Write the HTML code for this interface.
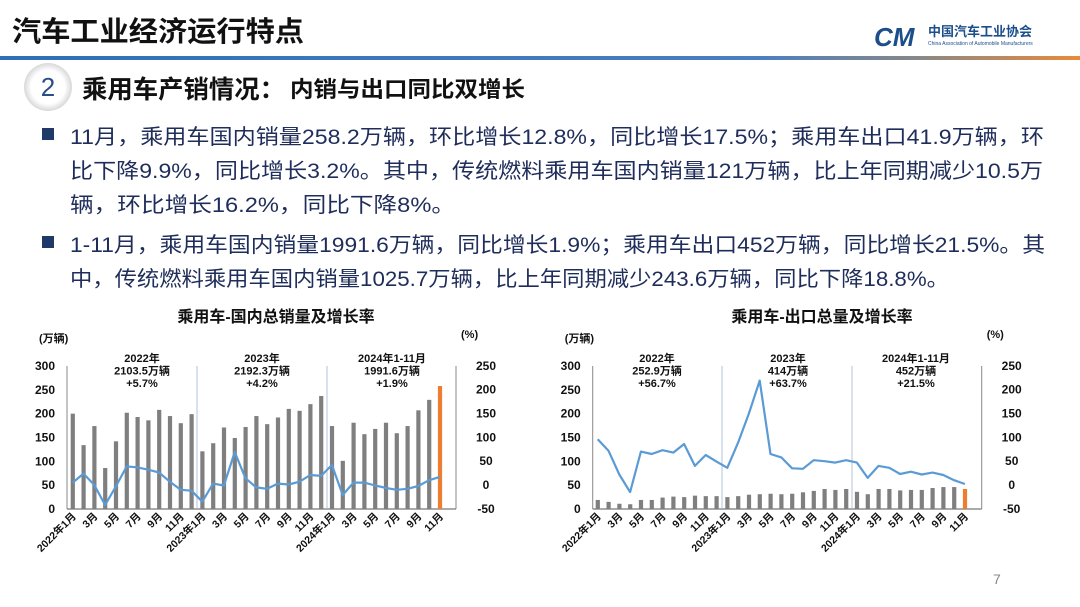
<!DOCTYPE html>
<html><head><meta charset="utf-8">
<style>
body{margin:0;width:1080px;height:607px;overflow:hidden;background:#fff;font-family:"Liberation Sans","Noto Sans CJK SC",sans-serif;}
svg{position:absolute;left:0;top:0}
</style></head><body>
<svg id="s" width="1080" height="607" viewBox="0 0 1080 607" font-family="Liberation Sans, Noto Sans CJK SC, sans-serif">
<defs>
<linearGradient id="hl" x1="0" x2="1"><stop offset="0" stop-color="#2e6fb8"/><stop offset="0.7" stop-color="#4a7fc0"/><stop offset="0.85" stop-color="#888"/><stop offset="1" stop-color="#e98a3a"/></linearGradient>
<radialGradient id="cg"><stop offset="0.7" stop-color="#fff"/><stop offset="1" stop-color="#d8d8d8"/></radialGradient>
</defs>
<text x="12" y="41" font-size="28" font-weight="bold" fill="#111" textLength="292" lengthAdjust="spacingAndGlyphs">汽车工业经济运行特点</text>
<rect x="0" y="56" width="1080" height="4" fill="url(#hl)"/>
<text x="874" y="46" font-size="26" font-weight="bold" font-style="italic" fill="#1c4e8c">CM</text>
<text x="928" y="36" font-size="13" font-weight="bold" fill="#1c4e8c">中国汽车工业协会</text>
<text x="928" y="45" font-size="5" fill="#1c4e8c">China Association of Automobile Manufacturers</text>
<circle cx="48" cy="87" r="24" fill="url(#cg)"/>
<text x="48" y="96" font-size="26" text-anchor="middle" fill="#2a4f86">2</text>
<text x="82" y="98" font-size="25" font-weight="bold" fill="#111" textLength="203" lengthAdjust="spacingAndGlyphs">乘用车产销情况：</text>
<text x="290" y="97" font-size="22" font-weight="bold" fill="#111" textLength="235" lengthAdjust="spacingAndGlyphs">内销与出口同比双增长</text>
<g font-size="21" fill="#1f2d5a" lengthAdjust="spacingAndGlyphs">
<rect x="42" y="128" width="12" height="12" fill="#1f3a68"/>
<text x="70" y="144" textLength="974" lengthAdjust="spacingAndGlyphs">11月，乘用车国内销量258.2万辆，环比增长12.8%，同比增长17.5%；乘用车出口41.9万辆，环</text>
<text x="70" y="178" textLength="973" lengthAdjust="spacingAndGlyphs">比下降9.9%，同比增长3.2%。其中，传统燃料乘用车国内销量121万辆，比上年同期减少10.5万</text>
<text x="70" y="212" textLength="385" lengthAdjust="spacingAndGlyphs">辆，环比增长16.2%，同比下降8%。</text>
<rect x="42" y="236" width="12" height="12" fill="#1f3a68"/>
<text x="70" y="252" textLength="975" lengthAdjust="spacingAndGlyphs">1-11月，乘用车国内销量1991.6万辆，同比增长1.9%；乘用车出口452万辆，同比增长21.5%。其</text>
<text x="70" y="286" textLength="879" lengthAdjust="spacingAndGlyphs">中，传统燃料乘用车国内销量1025.7万辆，比上年同期减少243.6万辆，同比下降18.8%。</text>
</g>
<text x="993" y="584" font-size="14" fill="#888">7</text>
<g id="c1"></g><g id="c2"></g>
</svg>
<script>
var NS="http://www.w3.org/2000/svg";
function el(p,t,a,txt){var e=document.createElementNS(NS,t);for(var k in a)e.setAttribute(k,a[k]);if(txt!=null)e.textContent=txt;p.appendChild(e);return e;}
function chart(g,x0,x1,bx0,title,tx,bars,line,seps,ann){
 var y0=509,k=143/300,r0=485,rk=143/300;
 el(g,"text",{x:tx,y:322,"font-size":16,"font-weight":"bold","text-anchor":"middle",fill:"#111"},title);
 el(g,"text",{x:x0-28,y:342,"font-size":11,"font-weight":"bold",fill:"#111"},"(万辆)");
 el(g,"text",{x:x1+5,y:338,"font-size":11,"font-weight":"bold",fill:"#111"},"(%)");
 for(var v=0;v<=300;v+=50){el(g,"text",{x:x0-12,y:y0-v*k+4,"font-size":12,"font-weight":"bold","text-anchor":"end",fill:"#111"},v);}
 for(var v=-50;v<=250;v+=50){el(g,"text",{x:x1+30,y:r0-v*rk+4,"font-size":12,"font-weight":"bold","text-anchor":"middle",fill:"#111"},v);}
 el(g,"line",{x1:x0,y1:366,x2:x0,y2:y0,stroke:"#888","stroke-width":1});
 el(g,"line",{x1:x1,y1:366,x2:x1,y2:y0,stroke:"#888","stroke-width":1});
 el(g,"line",{x1:x0,y1:y0,x2:x1,y2:y0,stroke:"#777","stroke-width":1.2});
 seps.forEach(function(s){el(g,"line",{x1:s,y1:366,x2:s,y2:y0,stroke:"#9bb7d6","stroke-width":0.8});});
 var sp=10.8;
 bars.forEach(function(b,i){var x=bx0+i*sp;el(g,"rect",{x:x-2,y:y0-b*k,width:4.2,height:b*k,fill:i==34?"#ed7d31":"#7f7f7f"});});
 var pts=line.map(function(v,i){return (bx0+i*sp).toFixed(1)+","+(r0-v*rk).toFixed(1);}).join(" ");
 el(g,"polyline",{points:pts,fill:"none",stroke:"#5b9bd5","stroke-width":2.2,"stroke-linejoin":"round"});
 var lab=["2022年1月","3月","5月","7月","9月","11月","2023年1月","3月","5月","7月","9月","11月","2024年1月","3月","5月","7月","9月","11月"];
 lab.forEach(function(l,j){var x=bx0+j*2*sp+4,y=517;el(g,"text",{x:x,y:y,"font-size":10.5,"font-weight":"bold","text-anchor":"end",fill:"#111",transform:"rotate(-45 "+x+" "+y+")"},l);});
 ann.forEach(function(a){a[1].forEach(function(t,j){el(g,"text",{x:a[0],y:362+j*12.5,"font-size":11,"font-weight":"bold","text-anchor":"middle",fill:"#111"},t);});});
}
chart(document.getElementById("c1"),67,456,72.7,"乘用车-国内总销量及增长率",276,
[200,134,174,86,142,202,193,186,208,195,180,199,121,138,171,149,172,195,178,192,210,206,220,237,174,101,181,157,168,181,159,174,207,229,258],
[5,24,0,-42,-3,39,37,32,26,7,-10,-12,-35,3,-1,69,14,-5,-8,3,1,7,21,19,42,-21,5,5,-1,-6,-10,-8,-2,10,17],
[197,327],[[142,["2022年","2103.5万辆","+5.7%"]],[262,["2023年","2192.3万辆","+4.2%"]],[392,["2024年1-11月","1991.6万辆","+1.9%"]]]);
chart(document.getElementById("c2"),592.7,981.7,597.7,"乘用车-出口总量及增长率",822,
[19,15,11,10,19,19,24,26,25,28,27,27,25,27,30,31,32,31,32,35,38,42,40,42,36,31,42,42,39,40,40,44,46,46,42],
[96,72,22,-15,70,65,73,68,86,40,63,49,36,89,150,219,65,58,35,34,52,50,47,52,47,15,40,36,23,28,22,26,21,10,2],
[722,852],[[657,["2022年","252.9万辆","+56.7%"]],[788,["2023年","414万辆","+63.7%"]],[916,["2024年1-11月","452万辆","+21.5%"]]]);
</script>
</body></html>
